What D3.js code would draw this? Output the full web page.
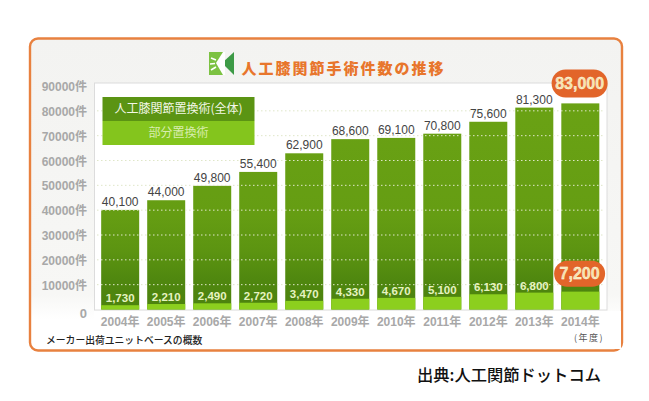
<!DOCTYPE html>
<html><head><meta charset="utf-8">
<script src="https://cdn.jsdelivr.net/npm/d3@7"></script>
<style>html,body{margin:0;padding:0;background:#fff}svg{display:block}
text{font-family:"Noto Sans CJK JP","Noto Sans",sans-serif}
.num{font-family:"Liberation Sans","Noto Sans CJK JP",sans-serif}</style></head>
<body><svg id="c" width="649" height="401"></svg>
<script>
const years=["2004年","2005年","2006年","2007年","2008年","2009年","2010年","2011年","2012年","2013年","2014年"];
const totalValues=[40100,44000,49800,55400,62900,68600,69100,70800,75600,81300,83000];
const partialValues=[1730,2210,2490,2720,3470,4330,4670,5100,6130,6800,7200];
const yTicks=[0,10000,20000,30000,40000,50000,60000,70000,80000,90000];
const legendLabels=["人工膝関節置換術(全体)","部分置換術"];
const titleText="人工膝関節手術件数の推移";
const noteText="メーカー出荷ユニットベースの概数";
const unitText="(年度)";
const sourceText="出典:人工関節ドットコム";

const svg=d3.select("#c");
const defs=svg.append("defs");
const cardG=defs.append("linearGradient").attr("id","card").attr("x1",0).attr("x2",0).attr("y1",0).attr("y2",1);
cardG.append("stop").attr("offset",0).attr("stop-color","#f3f3f1");
cardG.append("stop").attr("offset",.82).attr("stop-color","#f7f7f5");
cardG.append("stop").attr("offset",.9).attr("stop-color","#ffffff");
const barG=defs.append("linearGradient").attr("id","bar").attr("gradientUnits","userSpaceOnUse").attr("x1",0).attr("x2",0).attr("y1",100).attr("y2",310);
[[0,"#6aa214"],[.55,"#659d13"],[.72,"#5c9411"],[.86,"#4f870f"],[1,"#4c820e"]].forEach(s=>barG.append("stop").attr("offset",s[0]).attr("stop-color",s[1]));

const x=d3.scaleBand().domain(years).range([97.5,603]).paddingInner(0.174).paddingOuter(0.08);
const y=d3.scaleLinear().domain([0,90000]).range([309.5,86]);

// card
svg.append("rect").attr("x",30).attr("y",38.5).attr("width",592).attr("height",312).attr("rx",8)
  .attr("fill","url(#card)").attr("stroke","#e8813f").attr("stroke-width",2.4);
// plot panel
svg.append("rect").attr("x",94.5).attr("y",83).attr("width",512.5).attr("height",227)
  .attr("fill","#fff").attr("stroke","#dcdcdc").attr("stroke-width",1);
svg.append("rect").attr("x",94).attr("y",311).attr("width",527).attr("height",38).attr("fill","#fff");

// y labels
svg.append("g").selectAll("text").data(yTicks).join("text").attr("class","num")
  .attr("x",87).attr("y",d=>d===0?y(d)+8:y(d)+5).attr("text-anchor","end").attr("fill","#a8a8a8")
  .attr("font-size",d=>d===0?13:12).attr("font-weight",700)
  .text(d=>d===0?"0":d+"件");

// bars
svg.append("g").selectAll("rect").data(totalValues).join("rect")
  .attr("x",(d,i)=>x(years[i])).attr("y",d=>y(d)).attr("width",x.bandwidth())
  .attr("height",d=>y(0)-y(d)).attr("fill","url(#bar)");
svg.append("g").selectAll("rect").data(partialValues).join("rect")
  .attr("x",(d,i)=>x(years[i])).attr("y",d=>y(d)).attr("width",x.bandwidth())
  .attr("height",d=>y(0)-y(d)).attr("fill","#8ccf1e");

// dotted grid
svg.append("g").selectAll("line").data(yTicks.slice(1,-1)).join("line")
  .attr("x1",97).attr("x2",604).attr("y1",d=>y(d)).attr("y2",d=>y(d))
  .attr("stroke","#dfe6c8").attr("stroke-width",1).attr("stroke-dasharray","1.5 2.5");

// value labels
svg.append("g").selectAll("text").data(totalValues.slice(0,-1)).join("text").attr("class","num")
  .attr("x",(d,i)=>x(years[i])+x.bandwidth()/2).attr("y",d=>y(d)-4)
  .attr("text-anchor","middle").attr("font-size",12).attr("fill","#444").text(d=>d3.format(",")(d));
svg.append("g").selectAll("text").data(partialValues.slice(0,-1)).join("text").attr("class","num")
  .attr("x",(d,i)=>x(years[i])+x.bandwidth()/2).attr("y",(d,i)=>y(d)-3)
  .attr("text-anchor","middle").attr("font-size",11.5).attr("font-weight",700).attr("fill","#e6f3c0")
  .text(d=>d3.format(",")(d));

// highlighted last values
function badge(v,cy,w,h){
  const cx=x(years[10])+x.bandwidth()/2-0.7;
  svg.append("rect").attr("x",cx-w/2).attr("y",cy-h/2).attr("width",w).attr("height",h).attr("rx",h/2)
    .attr("fill","#e2652a");
  svg.append("text").attr("class","num").attr("x",cx).attr("y",cy+5.5).attr("text-anchor","middle").attr("font-size",16).attr("font-weight",700)
    .attr("fill","#f6e3a8").attr("stroke","#fff").attr("stroke-width",.3).text(d3.format(",")(v));
}
badge(totalValues[10],83.5,56,28);
badge(partialValues[10],273.7,51,26);

// x labels
svg.append("g").selectAll("text").data(years).join("text").attr("class","num")
  .attr("x",d=>x(d)+x.bandwidth()/2).attr("y",326).attr("text-anchor","middle")
  .attr("font-size",12).attr("font-weight",700).attr("fill","#a8a8a8").text(d=>d);

// legend
const lg=svg.append("g");
lg.append("rect").attr("x",102.5).attr("y",97).attr("width",152).attr("height",24).attr("fill","#5b9413");
lg.append("rect").attr("x",102.5).attr("y",121).attr("width",152).attr("height",24).attr("fill","#84c51d");
legendLabels.forEach((t,i)=>lg.append("text").attr("x",178.5).attr("y",113+i*24).attr("text-anchor","middle")
  .attr("font-size",12).attr("fill",i?"#d9edb0":"#f4f8e8").text(t));

// title + icon
svg.append("rect").attr("x",209).attr("y",52).attr("width",16).attr("height",23).attr("fill","#7cc242");
svg.append("path").attr("d","M234 52 L222 63 L234 75 Z").attr("fill","#3d9a46");
svg.append("path").attr("d","M223 52 L225 52 L225 75 L223 75 L216 63 Z").attr("fill","#fff");
svg.append("path").attr("d","M211 58 L216 60 M210 64 L215 63.5 M211 70 L216 67").attr("stroke","#fff").attr("stroke-width",1.6).attr("fill","none");
svg.append("text").attr("x",241.5).attr("y",74).attr("font-size",15).attr("font-weight",900).attr("letter-spacing",2)
  .attr("fill","#e8762c").text(titleText);

// notes
svg.append("text").attr("x",46).attr("y",343.5).attr("font-size",9.8).attr("font-weight",500).attr("fill","#222").text(noteText);
svg.append("text").attr("x",574).attr("y",341).attr("font-size",9).attr("letter-spacing",1.5).attr("fill","#555").text(unitText);
svg.append("text").attr("x",417).attr("y",381).attr("font-size",16.3).attr("font-weight",500).attr("fill","#111").text(sourceText);
</script></body></html>
